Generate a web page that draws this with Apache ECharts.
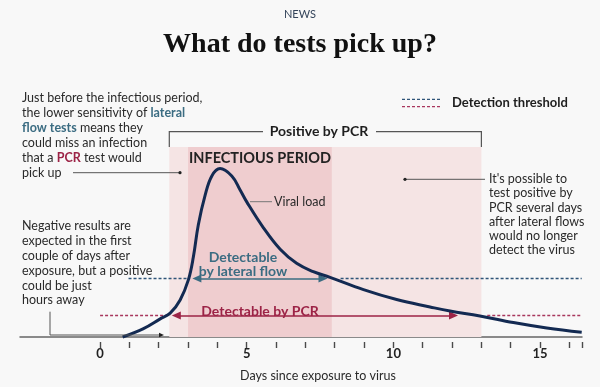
<!DOCTYPE html>
<html>
<head>
<meta charset="utf-8">
<script src="https://cdn.jsdelivr.net/npm/echarts@6/dist/echarts.min.js"></script>
<style>
html,body{margin:0;padding:0;background:#f8f8f8;}
#c{width:600px;height:387px;}
</style>
</head>
<body>
<div id="c"></div>
<script>
// ---- data ----
const days      = [0.77, 1.48, 2.05, 2.39, 2.73, 3.01, 3.18, 3.35, 3.58, 3.81, 4.09, 4.49, 4.77, 5.0, 5.57, 6.14, 6.7, 7.27, 7.84, 8.98, 10.11, 11.25, 11.93, 12.95, 14.09, 15.23, 16.42];
const viralLoad = [0, 4.3, 9.3, 12.2, 19.0, 29.3, 41, 57.6, 72.6, 82.6, 86.4, 82.6, 75.5, 69.3, 56, 45, 37.8, 33.5, 30.6, 24.3, 19.2, 15.4, 13.3, 10.8, 7.4, 4.6, 2.4];
const lateralFlowThreshold = 30;
const pcrThreshold = 11;
const infectiousPeriod = [3.0, 7.9];
const pcrPositivePeriod = [2.36, 13.0];
const lateralFlowArrow = [3.3, 7.6];
const pcrArrow = [2.6, 12.05];
const lateralDashed = [[0.97, 3.07], [8.2, 16.42]];
const pcrDashed = [[0, 2.39], [13.2, 16.42]];
const xTickValues = [0,1,2,3,4,5,6,7,8,9,10,11,12,13,14,15,16];
const xLabelValues = [0,5,10,15];
const xRange = [-2.73, 16.43];

// ---- styles ----
const FONT = 'Lato, "Open Sans", sans-serif';
const TEAL = '#3b6c82', TEAL_DASH = '#2f5478';
const CRIMSON = '#9c2346', CRIMSON_DASH = '#a8375d';
const NAVY = '#132a52';
const SHADE_TOP = 97.5;
const GRID = {left: 20, right: 18, top: 142, bottom: 45};

const chart = echarts.init(document.getElementById('c'), null, {renderer: 'canvas'});

const curve = days.map((d, i) => [d, viralLoad[i]]);

function seg(a, b, y, lineStyle, itemStyle) {
  const s = {coord: [a, y], lineStyle: lineStyle};
  if (itemStyle) s.itemStyle = itemStyle;
  return [s, {coord: [b, y]}];
}
const dashLat = {color: TEAL_DASH, type: [3, 2], width: 1.3};
const dashPcr = {color: CRIMSON_DASH, type: [3, 2], width: 1.3};

// second grid, starting at day 0, carries the day ticks (ticks count from min)
const pxPerDay = (600 - GRID.left - GRID.right) / (xRange[1] - xRange[0]);
const tickGridLeft = GRID.left + (xTickValues[0] - xRange[0]) * pxPerDay;

const option = {
  backgroundColor: '#f8f8f8',
  animation: false,
  grid: [GRID, {left: tickGridLeft, right: GRID.right, top: GRID.top, bottom: GRID.bottom}],
  xAxis: [{
    type: 'value', min: xRange[0], max: xRange[1], gridIndex: 0,
    axisLine: {show: true, lineStyle: {color: '#666', width: 1.5}},
    axisTick: {show: false},
    axisLabel: {customValues: xLabelValues, fontFamily: FONT, fontWeight: 'bold', fontSize: 13, color: '#222', margin: 10},
    splitLine: {show: false},
    name: 'Days since exposure to virus', nameLocation: 'middle', nameGap: 32,
    nameTextStyle: {fontFamily: FONT, fontSize: 12.5, color: '#2a2a2a', padding: [0, 0, 0, 34]}
  }, {
    type: 'value', gridIndex: 1, min: xTickValues[0], max: xRange[1], interval: 1,
    axisLine: {show: false},
    axisTick: {show: true, length: 6, lineStyle: {color: '#4a4a4a', width: 1.4}},
    axisLabel: {show: false}, splitLine: {show: false}
  }],
  yAxis: [
    {type: 'value', min: 0, max: 100, show: false, gridIndex: 0},
    {type: 'value', min: 0, max: 100, show: false, gridIndex: 1}
  ],
  series: [
    {
      name: 'shading', type: 'line', data: [], z: 1,
      markArea: {
        silent: true,
        data: [
          [{xAxis: pcrPositivePeriod[0], yAxis: 0, itemStyle: {color: '#f5e4e4'}}, {xAxis: pcrPositivePeriod[1], yAxis: SHADE_TOP}],
          [{xAxis: infectiousPeriod[0], yAxis: 0, itemStyle: {color: '#efcdcf'}}, {xAxis: infectiousPeriod[1], yAxis: SHADE_TOP}]
        ]
      }
    },
    {
      name: 'thresholds', type: 'line', data: [], z: 2,
      markLine: {
        silent: true, symbol: 'none', label: {show: false},
        data: [
          seg(lateralDashed[0][0], lateralDashed[0][1], lateralFlowThreshold, dashLat),
          seg(lateralDashed[1][0], lateralDashed[1][1], lateralFlowThreshold, dashLat),
          seg(pcrDashed[0][0], pcrDashed[0][1], pcrThreshold, dashPcr),
          seg(pcrDashed[1][0], pcrDashed[1][1], pcrThreshold, dashPcr)
        ]
      }
    },
    {
      name: 'arrows', type: 'line', data: [], z: 2,
      markLine: {
        silent: true, symbol: ['triangle', 'triangle'], symbolSize: [8, 9], label: {show: false},
        data: [
          seg(lateralFlowArrow[0], lateralFlowArrow[1], lateralFlowThreshold, {color: TEAL, type: 'solid', width: 1.6}, {color: TEAL}),
          seg(pcrArrow[0], pcrArrow[1], pcrThreshold, {color: CRIMSON, type: 'solid', width: 1.6}, {color: CRIMSON})
        ]
      }
    },
    {
      name: 'Viral load', type: 'line', data: curve, z: 5,
      smooth: 0.4, showSymbol: false, clip: false,
      lineStyle: {color: NAVY, width: 3}
    }
  ]
};
chart.setOption(option);

// ---- annotations ----
const p = v => chart.convertToPixel({gridIndex: 0}, v);
const shadeTopY = p([0, SHADE_TOP])[1];
const bxL = p([pcrPositivePeriod[0], 0])[0];
const bxR = p([pcrPositivePeriod[1], 0])[0];
const bracketY = 131.7;
const GRAY = '#555';
const BODY = '12.5px ' + FONT;
const txt = (x, y, text, extra) => Object.assign({type: 'text', x: x, y: y, z: 50, silent: true,
  style: Object.assign({text: text, font: BODY, fill: '#2a2a2a'}, extra || {})});

const rich = {
  t: {fontFamily: FONT, fontSize: 12.5, fill: TEAL, fontWeight: 'bold'},
  r: {fontFamily: FONT, fontSize: 12.5, fill: CRIMSON, fontWeight: 'bold'},
  n: {fontFamily: FONT, fontSize: 12.5, fill: '#2a2a2a'}
};
const G = o => Object.assign({z: 50, silent: true}, o);

chart.setOption({
  graphic: [
    txt(300, 14, 'NEWS', {font: '11px ' + FONT, fill: '#34445a', textAlign: 'center', textVerticalAlign: 'middle'}),
    txt(300, 45, 'What do tests pick up?', {font: 'bold 28px "Liberation Serif", serif', fill: '#111', textAlign: 'center', textVerticalAlign: 'middle'}),
    // legend
    G({type: 'line', shape: {x1: 402, y1: 99.3, x2: 442, y2: 99.3}, style: {stroke: TEAL_DASH, lineWidth: 1.3, lineDash: [3, 2]}}),
    G({type: 'line', shape: {x1: 402, y1: 106.7, x2: 442, y2: 106.7}, style: {stroke: CRIMSON_DASH, lineWidth: 1.3, lineDash: [3, 2]}}),
    txt(452, 103.3, 'Detection threshold', {font: 'bold 13px ' + FONT, fill: '#1e1e1e', textVerticalAlign: 'middle'}),
    // paragraph 1
    G({type: 'text', x: 22, y: 91, style: {
      text: '{n|Just before the infectious period,}\n{n|the lower sensitivity of }{t|lateral}\n{t|flow tests}{n| means they}\n{n|could miss an infection}\n{n|that a }{r|PCR}{n| test would}\n{n|pick up}',
      rich: rich, lineHeight: 14.9, fill: '#2a2a2a', font: BODY}}),
    G({type: 'line', shape: {x1: 73, y1: 172.7, x2: 180, y2: 172.7}, style: {stroke: GRAY, lineWidth: 1}}),
    G({type: 'circle', shape: {cx: 180, cy: 172.7, r: 1.6}, style: {fill: '#222'}}),
    // paragraph 2
    G({type: 'text', x: 22, y: 218.5, style: {
      text: 'Negative results are\nexpected in the first\ncouple of days after\nexposure, but a positive\ncould be just\nhours away',
      font: BODY, lineHeight: 14.9, fill: '#2a2a2a'}}),
    G({type: 'polyline', shape: {points: [[50, 311.7], [50, 335], [161, 335]]}, style: {stroke: GRAY, lineWidth: 1, fill: null}}),
    G({type: 'polygon', shape: {points: [[164, 335], [159, 332.8], [159, 337.2]]}, style: {fill: '#222'}}),
    // paragraph 3
    G({type: 'text', x: 489, y: 172, style: {
      text: "It's possible to\ntest positive by\nPCR several days\nafter lateral flows\nwould no longer\ndetect the virus",
      font: BODY, lineHeight: 14.2, fill: '#2a2a2a'}}),
    G({type: 'line', shape: {x1: 405, y1: 179.3, x2: 485, y2: 179.3}, style: {stroke: GRAY, lineWidth: 1}}),
    G({type: 'circle', shape: {cx: 405, cy: 179.3, r: 1.6}, style: {fill: '#222'}}),
    // positive by PCR bracket
    G({type: 'polyline', shape: {points: [[bxL, shadeTopY], [bxL, bracketY], [263, bracketY]]}, style: {stroke: GRAY, lineWidth: 1.2, fill: null}}),
    G({type: 'polyline', shape: {points: [[376, bracketY], [bxR, bracketY], [bxR, shadeTopY]]}, style: {stroke: GRAY, lineWidth: 1.2, fill: null}}),
    txt(319, bracketY, 'Positive by PCR', {font: 'bold 14px ' + FONT, fill: '#1e1e1e', textAlign: 'center', textVerticalAlign: 'middle'}),
    // infectious period
    txt(260, 158.3, 'INFECTIOUS PERIOD', {font: 'bold 14.5px ' + FONT, fill: '#222', textAlign: 'center', textVerticalAlign: 'middle'}),
    // viral load label
    G({type: 'line', shape: {x1: 250, y1: 201.7, x2: 272, y2: 201.7}, style: {stroke: '#777', lineWidth: 1}}),
    txt(274, 201.7, 'Viral load', {textVerticalAlign: 'middle'}),
    // detectable labels
    txt(243, 264.5, 'Detectable\nby lateral flow', {font: 'bold 14px ' + FONT, fill: TEAL, textAlign: 'center', textVerticalAlign: 'middle', lineHeight: 14.5}),
    txt(260, 311, 'Detectable by PCR', {font: 'bold 14px ' + FONT, fill: CRIMSON, textAlign: 'center', textVerticalAlign: 'middle'})
  ]
});
</script>
</body>
</html>
